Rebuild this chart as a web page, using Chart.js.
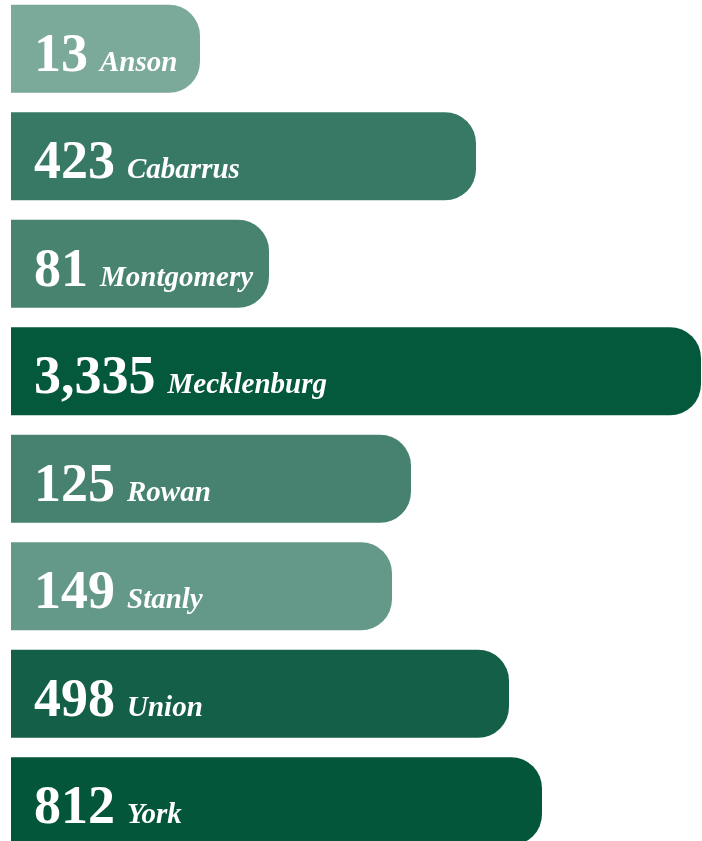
<!DOCTYPE html>
<html>
<head>
<meta charset="utf-8">
<script src="https://cdn.jsdelivr.net/npm/chart.js@4"></script>
<style>
  html, body { margin: 0; padding: 0; background: #fff; overflow: hidden; }
  #wrap { position: absolute; left: 0; top: -5px; width: 702px; height: 860px; }
</style>
</head>
<body>
<div id="wrap"><canvas id="chart"></canvas></div>
<script>
// counties and the counts printed on each bar
const counties = ['Anson', 'Cabarrus', 'Montgomery', 'Mecklenburg', 'Rowan', 'Stanly', 'Union', 'York'];
const counts = [13, 423, 81, 3335, 125, 149, 498, 812];
// bar lengths as drawn in the picture (not proportional to the counts)
const barLengths = [189, 465, 258, 690, 400, 381, 498, 531];
const barColors = ['#7ba99a', '#387966', '#488370', '#04583c', '#46826f', '#64998a', '#145f47', '#04563a'];

const labelPlugin = {
    id: 'barLabels',
    afterDatasetsDraw(chart) {
        const ctx = chart.ctx;
        const meta = chart.getDatasetMeta(0);
        ctx.save();
        ctx.fillStyle = '#fff';
        ctx.textBaseline = 'alphabetic';
        meta.data.forEach((bar, i) => {
            const x = bar.base + 23;
            const y = bar.y + 22;
            const num = counts[i].toLocaleString('en-US');
            ctx.font = 'bold 54px "Liberation Serif", serif';
            ctx.fillText(num, x, y);
            const w = ctx.measureText(num).width;
            ctx.font = 'italic bold 29px "Liberation Serif", serif';
            ctx.fillText(counties[i], x + w + 12, y);
        });
        ctx.restore();
    }
};

new Chart(document.getElementById('chart'), {
    type: 'bar',
    data: {
        labels: counties,
        datasets: [{
            data: barLengths,
            backgroundColor: barColors,
            borderRadius: 31,
            barPercentage: 0.819,
            categoryPercentage: 1
        }]
    },
    options: {
        indexAxis: 'y',
        responsive: true,
        maintainAspectRatio: false,
        animation: false,
        layout: { padding: { left: 11, right: 0, top: 0, bottom: 0 } },
        scales: {
            x: { display: false, min: 0, max: 691 },
            y: { display: false }
        },
        plugins: {
            legend: { display: false },
            tooltip: { enabled: false }
        }
    },
    plugins: [labelPlugin]
});
</script>
</body>
</html>
